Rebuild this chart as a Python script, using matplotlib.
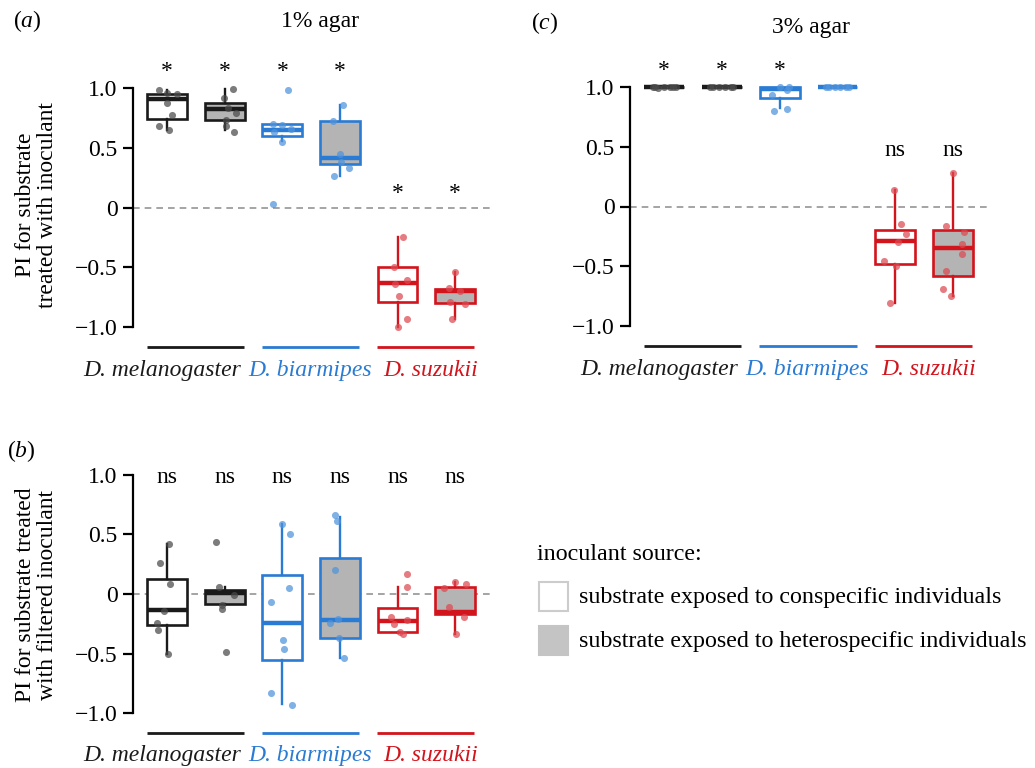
import matplotlib
matplotlib.use('Agg')
import matplotlib.pyplot as plt
from matplotlib.patches import Rectangle

plt.rcParams['font.family'] = 'Liberation Serif'
plt.rcParams['mathtext.fontset'] = 'custom'
plt.rcParams['mathtext.rm'] = 'Liberation Serif'
plt.rcParams['mathtext.it'] = 'Liberation Serif:italic'

W, H = 1035, 768

species = ['D. melanogaster', 'D. biarmipes', 'D. suzukii']
colors = ['#1a1a1a', '#2a7bd3', '#d2141c']
dot_colors = ['#4a4a4a', '#4f93dc', '#dc4a52']
fills = ['white', '#b4b4b4'] * 3

# ---- panel (a): 1% agar, inoculant ----
# box stats: q1, median, q3, lower / upper whisker
a_q1 = [0.74, 0.73, 0.60, 0.36, -0.79, -0.80]
a_med = [0.91, 0.82, 0.65, 0.41, -0.63, -0.70]
a_q3 = [0.95, 0.87, 0.70, 0.72, -0.50, -0.68]
a_lo = [0.65, 0.65, 0.56, 0.26, -1.00, -0.93]
a_hi = [0.98, 0.99, 0.70, 0.86, -0.25, -0.54]
a_pts = [[0.98, 0.96, 0.95, 0.87, 0.77, 0.68, 0.65],
         [0.99, 0.92, 0.83, 0.79, 0.73, 0.68, 0.63],
         [0.98, 0.70, 0.69, 0.66, 0.63, 0.55, 0.03],
         [0.86, 0.72, 0.45, 0.38, 0.33, 0.26],
         [-0.25, -0.50, -0.61, -0.64, -0.74, -0.93, -1.00],
         [-0.54, -0.67, -0.70, -0.79, -0.81, -0.93]]
a_jit = [[-0.14, 0.0, 0.17, 0.0, 0.09, -0.14, 0.03],
         [0.14, -0.02, 0.05, 0.19, 0.02, 0.02, 0.16],
         [0.10, -0.17, 0.0, 0.15, -0.14, 0.0, -0.17],
         [0.05, -0.12, 0.0, 0.02, 0.16, -0.10],
         [0.09, -0.07, 0.17, -0.05, 0.02, 0.16, 0.0],
         [0.0, -0.10, 0.09, -0.09, 0.17, -0.05]]
a_sig = ['*', '*', '*', '*', '*', '*']
a_sig_y = [1.14, 1.14, 1.14, 1.14, 0.12, 0.12]

# ---- panel (b): 1% agar, filtered inoculant ----
b_q1 = [-0.26, -0.087, -0.55, -0.37, -0.32, -0.17]
b_med = [-0.137, 0.005, -0.24, -0.22, -0.23, -0.15]
b_q3 = [0.126, 0.03, 0.16, 0.30, -0.12, 0.056]
b_lo = [-0.50, -0.09, -0.92, -0.54, -0.33, -0.34]
b_hi = [0.42, 0.06, 0.59, 0.65, 0.056, 0.10]
b_pts = [[0.42, 0.26, 0.08, -0.14, -0.24, -0.30, -0.50],
         [0.44, 0.06, -0.09, -0.13, -0.49, -0.01],
         [0.59, 0.50, 0.05, -0.07, -0.39, -0.46, -0.83, -0.93],
         [0.66, 0.61, 0.20, -0.24, -0.21, -0.37, -0.54],
         [0.17, 0.06, -0.19, -0.25, -0.22, -0.32, -0.34],
         [0.10, 0.05, 0.08, -0.11, -0.19, -0.34]]
b_jit = [[0.03, -0.13, 0.06, -0.06, -0.18, -0.15, 0.02],
         [-0.15, -0.09, -0.04, -0.05, 0.02, 0.17],
         [-0.01, 0.14, 0.12, -0.20, 0.01, 0.03, -0.19, 0.17],
         [-0.09, -0.06, -0.08, -0.17, -0.03, -0.01, 0.07],
         [0.16, 0.17, -0.12, -0.06, 0.16, 0.05, 0.10],
         [0.0, -0.20, 0.19, -0.10, 0.16, 0.02]]
b_sig = ['ns'] * 6
b_sig_y = [0.98] * 6

# ---- panel (c): 3% agar, inoculant ----
c_q1 = [1.0, 1.0, 0.905, 1.0, -0.48, -0.58]
c_med = [1.0, 1.0, 0.98, 1.0, -0.29, -0.35]
c_q3 = [1.0, 1.0, 1.0, 1.0, -0.195, -0.20]
c_lo = [1.0, 1.0, 0.82, 1.0, -0.81, -0.75]
c_hi = [1.0, 1.0, 1.0, 1.0, 0.14, 0.28]
c_pts = [[1.0, 0.99, 1.0, 1.0, 1.0, 1.0, 1.0],
         [1.0, 1.0, 1.0, 1.0, 1.0, 1.0],
         [1.0, 1.0, 0.975, 0.93, 0.80, 0.815],
         [1.0, 1.0, 1.0, 1.0, 1.0, 1.0],
         [0.14, -0.15, -0.23, -0.30, -0.46, -0.50, -0.81],
         [0.28, -0.16, -0.21, -0.31, -0.40, -0.54, -0.69, -0.75]]
c_jit = [[-0.2, -0.1, 0.0, 0.1, 0.2, -0.15, 0.15],
         [-0.15, -0.05, 0.05, 0.15, 0.2, -0.2],
         [0.0, 0.16, 0.12, -0.14, -0.10, 0.13],
         [-0.15, -0.05, 0.05, 0.15, 0.2, -0.2],
         [-0.03, 0.10, 0.18, 0.04, -0.19, 0.01, -0.09],
         [0.0, -0.12, 0.19, 0.15, 0.16, -0.13, -0.17, -0.04]]
c_sig = ['*', '*', '*', '', 'ns', 'ns']
c_sig_y = [1.14, 1.14, 1.14, 1.14, 0.47, 0.47]

label_x = [0.91, 3.48, 5.57]


def box_axes(x0, y0, x1, y1):
    return fig.add_axes([x0 / W, 1 - y1 / H, (x1 - x0) / W, (y1 - y0) / H])


def draw_panel(ax, q1, med, q3, lo, hi, pts, jit, sig, sig_y, ylabel, label_y):
    stats = [dict(q1=q1[i], med=med[i], q3=q3[i], whislo=lo[i], whishi=hi[i], fliers=[])
             for i in range(6)]
    ax.axhline(0, color='#959595', lw=1.2, ls=(0, (4, 3)), zorder=0)
    bp = ax.bxp(stats, positions=range(1, 7), widths=0.69, showcaps=False,
                patch_artist=True, manage_ticks=False)
    for i, box in enumerate(bp['boxes']):
        c = colors[i // 2]
        box.set(facecolor=fills[i], edgecolor=c, linewidth=1.9)
        bp['medians'][i].set(color=c, linewidth=3.2, solid_capstyle='butt')
        bp['whiskers'][2 * i].set(color=c, linewidth=1.7)
        bp['whiskers'][2 * i + 1].set(color=c, linewidth=1.7)
        ax.scatter([i + 1 + o for o in jit[i]], pts[i], s=26, color=dot_colors[i // 2],
                   alpha=0.72, linewidths=0, zorder=4)
        ax.text(i + 1, sig_y[i], sig[i], ha='center', va='center', fontsize=17,
                clip_on=False)
    for g in range(3):
        ax.plot([2 * g + 0.65, 2 * g + 2.33], [-1.17, -1.17], color=colors[g], lw=2,
                clip_on=False, solid_capstyle='butt')
        ax.text(label_x[g], -1.36, species[g], color=colors[g], fontsize=17,
                style='italic', ha='center', va='center', clip_on=False)
    ax.set_xlim(0.41, 6.62)
    ax.set_ylim(-1.1, 1.1)
    for s in ['top', 'right', 'bottom']:
        ax.spines[s].set_visible(False)
    ax.spines['left'].set_bounds(-1, 1)
    ax.spines['left'].set_linewidth(1.6)
    ax.set_xticks([])
    ax.set_yticks([-1, -0.5, 0, 0.5, 1])
    ax.set_yticklabels(['\u22121.0', '\u22120.5', '0', '0.5', '1.0'])
    ax.tick_params(axis='y', length=7, width=1.6, labelsize=17, pad=4)
    ax.set_facecolor('none')
    ax.set_ylabel(ylabel, fontsize=17, linespacing=1.05)
    ax.yaxis.set_label_coords(-0.21, label_y)


fig = plt.figure(figsize=(W / 100, H / 100), dpi=100)

ax_a = box_axes(133, 76, 491, 339)
draw_panel(ax_a, a_q1, a_med, a_q3, a_lo, a_hi, a_pts, a_jit, a_sig, a_sig_y,
           'PI for substrate\ntreated with inoculant', 0.51)

ax_c = box_axes(630, 75, 989, 338)
draw_panel(ax_c, c_q1, c_med, c_q3, c_lo, c_hi, c_pts, c_jit, c_sig, c_sig_y, '', 0.5)

ax_b = box_axes(133, 463, 491, 725)
draw_panel(ax_b, b_q1, b_med, b_q3, b_lo, b_hi, b_pts, b_jit, b_sig, b_sig_y,
           'PI for substrate treated\nwith filtered inoculant', 0.496)

fig.text(320 / W, 1 - 22 / H, '1% agar', ha='center', va='center', fontsize=17)
fig.text(811 / W, 1 - 27 / H, '3% agar', ha='center', va='center', fontsize=17)
fig.text(27 / W, 1 - 21 / H, r'$(a)$', ha='center', va='center', fontsize=17)
fig.text(545 / W, 1 - 23 / H, r'$(c)$', ha='center', va='center', fontsize=17)
fig.text(21 / W, 1 - 451 / H, r'$(b)$', ha='center', va='center', fontsize=17)

# legend
fig.text(537 / W, 1 - 554 / H, 'inoculant source:', ha='left', va='center', fontsize=17.3)
fig.add_artist(Rectangle((539 / W, 1 - 611 / H), 29 / W, 29 / H, transform=fig.transFigure,
                         facecolor='white', edgecolor='#cccccc', lw=1.5))
fig.add_artist(Rectangle((539 / W, 1 - 655 / H), 29 / W, 29 / H, transform=fig.transFigure,
                         facecolor='#c4c4c4', edgecolor='#c4c4c4', lw=1.5))
fig.text(579 / W, 1 - 598 / H, 'substrate exposed to conspecific individuals',
         ha='left', va='center', fontsize=17.3)
fig.text(579 / W, 1 - 641 / H, 'substrate exposed to heterospecific individuals',
         ha='left', va='center', fontsize=17.3)

fig.savefig('out.png', dpi=100)
